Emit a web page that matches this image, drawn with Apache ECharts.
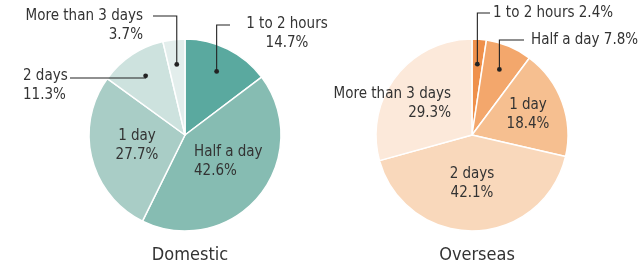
<!DOCTYPE html>
<html>
<head>
<meta charset="utf-8">
<script src="https://cdn.jsdelivr.net/npm/echarts@6/dist/echarts.min.js"></script>
<style>
  html, body { margin: 0; padding: 0; background: #fff; }
  #chart { width: 643px; height: 268px; }
</style>
</head>
<body>
<div id="chart"></div>
<script>
// data
var categories = ['1 to 2 hours', 'Half a day', '1 day', '2 days', 'More than 3 days'];
var domesticValues = [14.7, 42.6, 27.7, 11.3, 3.7];
var overseasValues = [2.4, 7.8, 18.4, 42.1, 29.3];
var chartTitles = ['Domestic', 'Overseas'];

var domesticColors = ['#5aa99f', '#86bcb2', '#a9cdc6', '#cde2de', '#e3eeec'];
var overseasColors = ['#ef904b', '#f3a76c', '#f6bf90', '#f9d8bb', '#fce9da'];

var FONT = '"Liberation Sans Narrow", "DejaVu Sans Condensed", "Roboto", sans-serif';
var TEXT = '#333';
var R = 96;
var centers = [[185, 135], [472, 135]];

// where each label goes (series, then slice)
var labelPos = [
    [
        {x: 287, y: 34, align: 'center'},
        {x: 194, y: 162, align: 'left'},
        {x: 137, y: 146, align: 'center'},
        {x: 23, y: 86, align: 'left'},
        {x: 143, y: 26, align: 'right'}
    ],
    [
        {x: 493, y: 13, align: 'left'},
        {x: 531, y: 40, align: 'left'},
        {x: 528, y: 115, align: 'center'},
        {x: 472, y: 184, align: 'center'},
        {x: 451, y: 104, align: 'right'}
    ]
];

// callout lines: slice, y of the horizontal run, x where it ends
var callouts = [
    [{i: 0, y: 25, x: 230}, {i: 4, y: 16, x: 153}, {i: 3, y: 78, x: 70}],
    [{i: 0, y: 13, x: 490}, {i: 1, y: 40, x: 524}]
];

function sliceDot(values, i, c) {
    var total = values.reduce(function (a, b) { return a + b; }, 0);
    var cum = 0;
    for (var k = 0; k < i; k++) cum += values[k];
    cum += values[i] / 2;
    var a = cum / total * Math.PI * 2;
    var r = R * 0.74;
    return [c[0] + r * Math.sin(a), c[1] - r * Math.cos(a)];
}

var graphics = [];
[domesticValues, overseasValues].forEach(function (vals, s) {
    callouts[s].forEach(function (co) {
        var d = sliceDot(vals, co.i, centers[s]);
        graphics.push({
            type: 'polyline', silent: true, z: 10,
            shape: {points: [[d[0], d[1]], [d[0], co.y], [co.x, co.y]]},
            style: {stroke: '#222', lineWidth: 1.1, fill: null}
        });
        graphics.push({
            type: 'circle', silent: true, z: 11,
            shape: {cx: d[0], cy: d[1], r: 2.4},
            style: {fill: '#222'}
        });
    });
});

function makeData(vals, colors) {
    return categories.map(function (name, i) {
        return {name: name, value: vals[i], itemStyle: {color: colors[i]}};
    });
}

function makeSeries(s, vals, colors, oneLine) {
    return {
        type: 'pie',
        center: centers[s],
        radius: [0, R],
        startAngle: 90,
        clockwise: true,
        silent: true,
        animation: false,
        itemStyle: {borderColor: '#fff', borderWidth: 1.5},
        label: {
            show: true,
            position: 'inside',
            color: TEXT,
            fontFamily: FONT,
            fontSize: 15,
            lineHeight: 19,
            formatter: function (p) {
                if (oneLine.indexOf(p.dataIndex) >= 0) return p.name + ' ' + p.value + '%';
                return p.name + '\n' + p.value + '%';
            }
        },
        labelLine: {show: false},
        labelLayout: function (params) {
            var lp = labelPos[s][params.dataIndex];
            return {x: lp.x, y: lp.y, align: lp.align, verticalAlign: 'middle'};
        },
        data: makeData(vals, colors)
    };
}

var chart = echarts.init(document.getElementById('chart'));
chart.setOption({
    backgroundColor: '#fff',
    animation: false,
    title: chartTitles.map(function (t, s) {
        return {
            text: t, left: centers[s][0], top: 241, textAlign: 'center',
            textStyle: {fontFamily: FONT, fontSize: 18, fontWeight: 'normal', color: TEXT}
        };
    }),
    graphic: graphics,
    series: [
        makeSeries(0, domesticValues, domesticColors, []),
        makeSeries(1, overseasValues, overseasColors, [0, 1])
    ]
});
window.addEventListener('resize', function () { chart.resize(); });
</script>
</body>
</html>
